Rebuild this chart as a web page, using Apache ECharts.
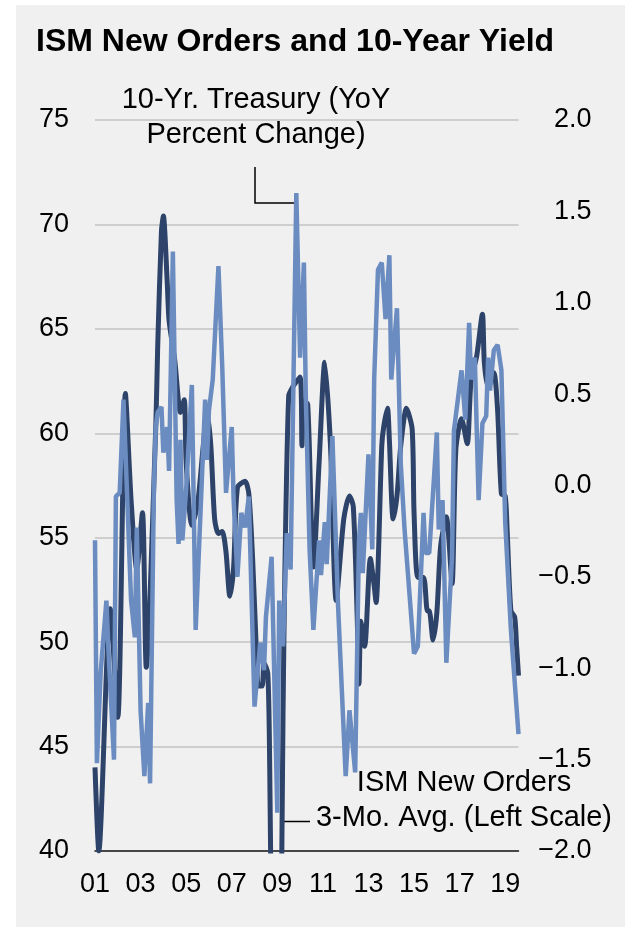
<!DOCTYPE html>
<html>
<head>
<meta charset="utf-8">
<style>
  html, body { margin: 0; padding: 0; background: #ffffff; }
  #panel { position: absolute; left: 16px; top: 5px; width: 609px; height: 922px; background: #f0f0f0; }
  #container { position: absolute; left: 0; top: 0; width: 625px; height: 927px; }
</style>
</head>
<body>
<div id="panel"></div>
<div id="container"></div>
<script src="https://cdn.jsdelivr.net/npm/echarts@6/dist/echarts.min.js"></script>
<script>
// months counted from Jan 2001
var ismMonths = [0, 2, 8, 12, 16, 19, 22, 25, 27, 32, 33, 35, 36, 38, 39, 42, 45, 47, 48, 51, 54, 57, 59, 61, 63, 65, 67, 69, 71, 73, 75, 79, 81, 83, 85, 86, 88, 89, 91, 92, 93, 94, 95, 96, 97, 98, 99, 100, 102, 104, 108, 109, 110, 112, 114, 115, 118, 121, 124, 127, 131, 134, 136, 138, 139, 140, 142, 145, 147, 148, 151, 152, 154, 155, 157, 159, 161, 164, 167, 168, 170, 173, 175, 176, 178, 180, 182, 185, 188, 190, 193, 196, 198, 201, 204, 205, 207, 210, 212, 214, 216, 217, 219, 221, 222, 223];
var ismValues = [44.0, 40.0, 51.6, 46.4, 61.9, 56.8, 53.5, 56.2, 48.8, 60.3, 64.1, 69.7, 70.4, 67.3, 65.4, 63.5, 61.0, 61.6, 58.6, 55.6, 56.6, 59.4, 61.0, 59.4, 55.9, 55.2, 55.3, 54.3, 52.2, 53.6, 57.4, 57.7, 57.1, 54.0, 49.5, 47.9, 47.9, 49.0, 48.5, 44.0, 35.0, 28.0, 26.0, 27.0, 29.0, 36.0, 46.5, 53.5, 61.8, 62.2, 62.7, 59.4, 61.5, 61.4, 55.5, 53.6, 58.6, 63.4, 59.4, 52.0, 55.9, 57.0, 56.5, 51.4, 48.0, 51.0, 49.8, 54.0, 52.7, 51.9, 59.4, 60.3, 61.2, 59.7, 55.9, 57.0, 59.4, 61.2, 60.2, 56.2, 53.1, 53.1, 51.5, 51.5, 50.1, 51.4, 54.6, 56.0, 52.8, 59.2, 60.7, 59.5, 62.5, 63.7, 65.7, 63.4, 62.2, 62.9, 61.1, 57.1, 57.0, 55.4, 51.5, 51.2, 49.8, 48.4];

var tsyMonths = [0, 1, 3, 6, 7, 10, 11, 13, 15, 17, 19, 21, 22, 24, 26, 28, 29, 31, 32, 33, 35, 36, 38, 39, 41, 43, 44, 45, 46, 48, 51, 53, 58, 59, 60, 62, 65, 67, 69, 72, 73, 75, 77, 79, 81, 84, 87, 89, 90, 93, 96, 97, 99, 101, 103, 106, 108, 110, 111, 113, 115, 118, 119, 121, 122, 125, 128, 132, 134, 137, 139, 140, 141, 144, 146, 147, 149, 151, 153, 155, 156, 159, 161, 163, 168, 170, 173, 174, 176, 180, 181, 183, 185, 188, 189, 193, 195, 197, 198, 200, 202, 204, 206, 207, 208, 210, 212, 214, 216, 219, 223];
var tsyValues = [-0.30, -1.52, -1.02, -0.63, -0.88, -1.50, -0.06, -0.04, 0.47, -0.08, -0.63, -0.83, -0.23, -1.23, -1.59, -1.19, -1.63, -0.02, 0.32, 0.40, 0.43, 0.18, 0.32, 0.08, 1.28, -0.08, -0.32, 0.25, -0.30, -0.02, 0.55, -0.79, 0.47, 0.14, 0.41, 0.58, 1.20, 0.65, -0.04, 0.32, -0.08, -0.50, -0.15, -0.23, -0.06, -1.21, -0.86, -1.01, -0.72, -0.39, -1.79, -0.63, -0.88, -0.26, -0.46, 1.60, 0.70, 1.22, 0.49, -0.35, -0.79, -0.30, -0.49, -0.20, -0.43, 0.27, -0.66, -1.59, -1.23, -1.57, -0.30, -0.15, -0.48, 0.17, -0.35, 0.58, 1.18, 1.22, 0.91, 1.26, 0.58, 0.97, 0.12, -0.24, -0.92, -0.88, -0.15, -0.37, -0.37, 0.29, -0.24, -0.08, -0.97, -0.39, 0.30, 0.63, 0.36, 0.89, 0.58, 0.70, -0.08, 0.34, 0.38, 0.70, 0.52, 0.74, 0.77, 0.63, -0.20, -0.79, -1.36];

var leftTicks = [40, 75, 5];
var rightTicks = [-2, 2, 0.5];

function pairs(xs, ys) {
  return xs.map(function (x, i) { return [x, ys[i]]; });
}

var FONT = 'Liberation Sans, Arial, sans-serif';
var chart = echarts.init(document.getElementById('container'), null, { renderer: 'canvas' });

var option = {
  backgroundColor: 'transparent',
  animation: false,
  grid: { left: 95, right: 106.5, top: 120, bottom: 76 },
  xAxis: {
    type: 'value',
    min: 0,
    max: 223,
    interval: 24,
    axisLine: { show: true, onZero: false, lineStyle: { color: '#1a1a1a', width: 1.5 } },
    axisTick: { show: false },
    splitLine: { show: false },
    axisLabel: {
      showMaxLabel: false,
      margin: 20,
      color: '#000',
      fontSize: 27,
      fontFamily: FONT,
      formatter: function (v) {
        if (v % 24 !== 0) return '';
        var y = v / 12 + 1;
        return (y < 10 ? '0' : '') + y;
      }
    }
  },
  yAxis: [{
    type: 'value',
    min: leftTicks[0], max: leftTicks[1], interval: leftTicks[2],
    axisLine: { show: false },
    axisTick: { show: false },
    splitLine: { lineStyle: { color: '#c3c3c3', width: 1.5 } },
    axisLabel: { margin: 26, color: '#000', fontSize: 27, fontFamily: FONT }
  }, {
    type: 'value',
    position: 'right',
    min: rightTicks[0], max: rightTicks[1], interval: rightTicks[2],
    axisLine: { show: false },
    axisTick: { show: false },
    splitLine: { show: false },
    axisLabel: {
      margin: 73, align: 'right', color: '#000', fontSize: 27, fontFamily: FONT,
      formatter: function (v) {
        return (v < 0 ? '\u2212' : '') + Math.abs(v).toFixed(1);
      }
    }
  }],
  series: [{
    name: 'ISM New Orders 3-Mo. Avg.',
    type: 'line',
    yAxisIndex: 0,
    data: pairs(ismMonths, ismValues),
    showSymbol: false,
    smooth: 0.25,
    clip: true,
    lineStyle: { color: '#2d4369', width: 5 }
  }, {
    name: '10-Yr. Treasury YoY',
    type: 'line',
    yAxisIndex: 1,
    data: pairs(tsyMonths, tsyValues),
    showSymbol: false,
    clip: true,
    lineStyle: { color: '#6b8cc0', width: 4.5 }
  }],
  graphic: [{
    type: 'text',
    style: {
      text: 'ISM New Orders and 10-Year Yield',
      x: 36, y: 42,
      font: 'bold 32px ' + FONT,
      fill: '#000',
      textAlign: 'left', align: 'left',
      textVerticalAlign: 'middle', verticalAlign: 'middle'
    }
  }, {
    type: 'text',
    style: {
      text: '10-Yr. Treasury (YoY\nPercent Change)',
      x: 256, y: 117,
      font: '29px ' + FONT,
      lineHeight: 35,
      fill: '#000',
      textAlign: 'center', align: 'center',
      textVerticalAlign: 'middle', verticalAlign: 'middle'
    }
  }, {
    type: 'polyline',
    shape: { points: [[255, 167], [255, 203], [297, 203]] },
    style: { stroke: '#000', lineWidth: 1.5, fill: null }
  }, {
    type: 'text',
    style: {
      text: 'ISM New Orders\n3-Mo. Avg. (Left Scale)',
      x: 464, y: 800,
      font: '29px ' + FONT,
      lineHeight: 35,
      fill: '#000',
      textAlign: 'center', align: 'center',
      textVerticalAlign: 'middle', verticalAlign: 'middle'
    }
  }, {
    type: 'polyline',
    shape: { points: [[283, 821.5], [310, 821.5]] },
    style: { stroke: '#000', lineWidth: 1.5, fill: null }
  }]
};

chart.setOption(option);
</script>
</body>
</html>
